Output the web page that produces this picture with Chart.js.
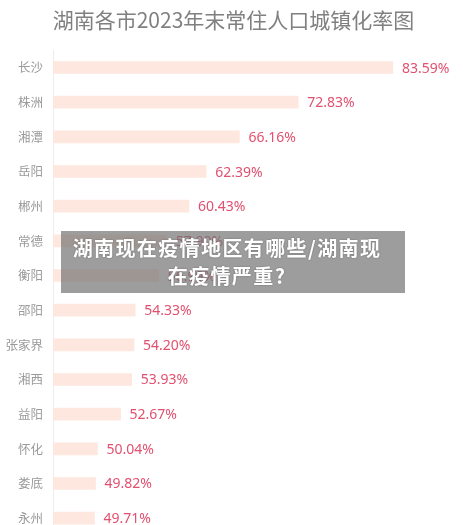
<!DOCTYPE html>
<html>
<head>
<meta charset="utf-8">
<script src="https://cdn.jsdelivr.net/npm/chart.js@4"></script>
<style>
  html, body { margin: 0; padding: 0; background: #fff; overflow: hidden; }
  #wrap { position: relative; width: 467px; height: 553px; }
  #mask {
    position: absolute; left: 61px; top: 231px; width: 316px; height: 62px;
    padding: 0 20px 0 8px;
    background: rgba(115, 115, 115, 0.7);
    color: #fff; font: bold 20px "Noto Sans CJK SC", sans-serif;
    letter-spacing: 1.4px; line-height: 28px; text-align: center;
    display: flex; align-items: center; justify-content: center;
    text-shadow: 0 0 2px rgba(0,0,0,0.3);
  }
</style>
</head>
<body>
<div id="wrap">
  <canvas id="graph" width="467" height="553"></canvas>
  <div id="mask"><div>湖南现在疫情地区有哪些/湖南现<br>在疫情严重?</div></div>
</div>
<script>
// 城市与城镇化率（%）
const ciudades = ['长沙', '株洲', '湘潭', '岳阳', '郴州', '常德', '衡阳', '邵阳', '张家界', '湘西', '益阳', '怀化', '娄底', '永州'];
const tasas = [83.59, 72.83, 66.16, 62.39, 60.43, 57.90, 56.99, 54.33, 54.20, 53.93, 52.67, 50.04, 49.82, 49.71];

// 在柱子右侧写数值
const etiquetas = {
  id: 'etiquetas',
  afterDatasetsDraw(chart) {
    const ctx = chart.ctx;
    const meta = chart.getDatasetMeta(0);
    ctx.save();
    ctx.font = '14px "Noto Sans", sans-serif';
    ctx.fillStyle = '#e2506f';
    ctx.textAlign = 'left';
    ctx.textBaseline = 'middle';
    meta.data.forEach((bar, i) => {
      ctx.fillText(tasas[i].toFixed(2) + '%', bar.x + 9, bar.y + 1);
    });
    ctx.restore();
  }
};

new Chart(document.getElementById('graph'), {
  type: 'bar',
  data: {
    labels: ciudades,
    datasets: [{
      data: tasas,
      backgroundColor: '#fde7de',
      barThickness: 12,
      borderWidth: 0
    }]
  },
  options: {
    indexAxis: 'y',
    responsive: false,
    animation: false,
    layout: { padding: 0 },
    plugins: {
      legend: { display: false },
      tooltip: { enabled: false },
      title: {
        display: true,
        text: '湖南各市2023年末常住人口城镇化率图',
        color: '#808080',
        font: { size: 21, weight: 'normal', family: '"Noto Sans CJK SC", sans-serif' },
        padding: { top: 7, bottom: 18 }
      }
    },
    scales: {
      x: { display: false, min: 45, max: 92 },
      y: {
        grid: { display: false, drawTicks: false },
        border: { display: true, color: '#ececec', width: 1 },
        ticks: {
          color: '#9a9a9a',
          padding: 10,
          font: { size: 12.5, family: '"Noto Sans CJK SC", sans-serif' }
        },
        afterFit(scale) { scale.width = 53; }
      }
    }
  },
  plugins: [etiquetas]
});
</script>
</body>
</html>
